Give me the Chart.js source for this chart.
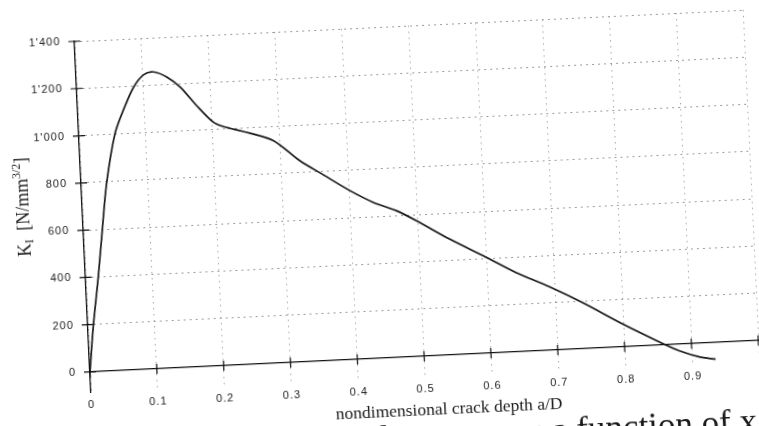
<!DOCTYPE html>
<html>
<head>
<meta charset="utf-8">
<script src="https://cdn.jsdelivr.net/npm/chart.js@4/dist/chart.umd.min.js"></script>
<style>
  body { margin: 0; width: 759px; height: 426px; overflow: hidden; background: #fff; }
  /* the scanned figure is tilted a little, so the whole sheet is turned around the origin */
  #sheet {
    position: absolute; left: 0; top: 0; width: 800px; height: 480px;
    transform-origin: 90px 372px; transform: rotate(-2.7deg);
  }
  #sheet canvas { position: absolute; left: 0; top: 0; }
  .serif { position: absolute; font-family: "Liberation Serif", "Times New Roman", serif; color: #1a1a1a; white-space: nowrap; }
  #ytitle { left: 31px; top: 204px; font-size: 18px; transform: translate(-50%, -50%) rotate(-90deg); }
  #ytitle sub { font-size: 12px; vertical-align: -3px; }
  #ytitle sup { font-size: 12px; vertical-align: 7px; }
  #xtitle { left: 447px; top: 425px; font-size: 17.5px; transform: translate(-50%, -50%); }
  #caption { right: 46px; top: 433px; font-size: 35px; }
</style>
</head>
<body>
<div id="sheet">
  <canvas id="myChart" width="800" height="460"></canvas>
  <div id="ytitle" class="serif">K<sub>I</sub> &nbsp;[N/mm<sup>3/2</sup>]</div>
  <div id="xtitle" class="serif">nondimensional crack depth a/D</div>
  <div id="caption" class="serif">residual stresses as a function of x</div>
</div>
<script>
// values
const crackDepth = [0, 0.008, 0.019, 0.028, 0.038, 0.054, 0.068, 0.085, 0.101, 0.116, 0.136, 0.155, 0.178, 0.202, 0.216, 0.251, 0.29, 0.328, 0.362, 0.401, 0.435, 0.469, 0.498, 0.546, 0.6, 0.643, 0.692, 0.74, 0.799, 0.859, 0.881, 0.911, 0.935];
const kI = [0, 189, 399, 589, 792, 1001, 1098, 1194, 1245, 1255, 1230, 1185, 1104, 1030, 1011, 981, 941, 851, 787, 714, 660, 620, 574, 490, 405, 335, 268, 195, 96, 3, -28, -58, -71];

const yTickValues = [0, 200, 400, 600, 800, 1000, 1200, 1400];

// ticks that cross the axis line on both sides
const crossTicks = {
  id: 'crossTicks',
  afterDraw(chart) {
    const { ctx, scales: { x, y } } = chart;
    const y0 = y.getPixelForValue(0);
    const x0 = x.getPixelForValue(0);
    ctx.save();
    ctx.strokeStyle = '#111';
    ctx.lineWidth = 1.2;
    ctx.beginPath();
    x.ticks.forEach(t => {
      const px = x.getPixelForValue(t.value);
      ctx.moveTo(px, y0 - 5); ctx.lineTo(px, y0 + 5);
    });
    y.ticks.forEach(t => {
      const py = y.getPixelForValue(t.value);
      ctx.moveTo(x0 - 6, py); ctx.lineTo(x0 + 6, py);
    });
    ctx.stroke();
    ctx.restore();
  }
};

const spacing = {
  id: 'spacing',
  beforeLayout(chart) { chart.ctx.letterSpacing = '1px'; },
  beforeDraw(chart) { chart.ctx.letterSpacing = '1px'; }
};

const ctx = document.getElementById('myChart').getContext('2d');
const myChart = new Chart(ctx, {
  type: 'line',
  data: {
    datasets: [{
      data: crackDepth.map((v, i) => ({ x: v, y: kI[i] })),
      borderColor: '#1a1a1a',
      borderWidth: 1.7,
      pointRadius: 0,
      tension: 0.3,
      fill: false
    }]
  },
  options: {
    responsive: false,
    animation: false,
    layout: { padding: { left: 0, top: 41, right: 41, bottom: 68 } },
    plugins: { legend: { display: false }, tooltip: { enabled: false } },
    scales: {
      x: {
        type: 'linear',
        position: { y: 0 },
        min: 0,
        max: 1,
        grid: { color: '#a8a8a8', lineWidth: 1, drawTicks: false },
        border: { color: '#111', width: 1.3, dash: [1.5, 4.5] },
        ticks: {
          stepSize: 0.1,
          padding: 26,
          color: '#222',
          font: { family: 'Liberation Sans, Arial, sans-serif', size: 11 },
          callback: v => (v >= 0.999 ? '' : (Math.round(v * 10) / 10).toString())
        }
      },
      y: {
        position: 'left',
        min: -85,
        max: 1400,
        afterFit(scale) { scale.width = 90; },
        afterBuildTicks(scale) { scale.ticks = yTickValues.map(v => ({ value: v })); },
        grid: { color: '#7a7a7a', lineWidth: 1, drawTicks: false },
        border: { color: '#111', width: 1.3, dash: [1.5, 4.5] },
        ticks: {
          padding: 14,
          color: '#222',
          font: { family: 'Liberation Sans, Arial, sans-serif', size: 11 },
          callback: v => (v >= 1000 ? Math.floor(v / 1000) + "'" + String(v % 1000).padStart(3, '0') : String(v))
        }
      }
    }
  },
  plugins: [crossTicks, spacing]
});
</script>
</body>
</html>
